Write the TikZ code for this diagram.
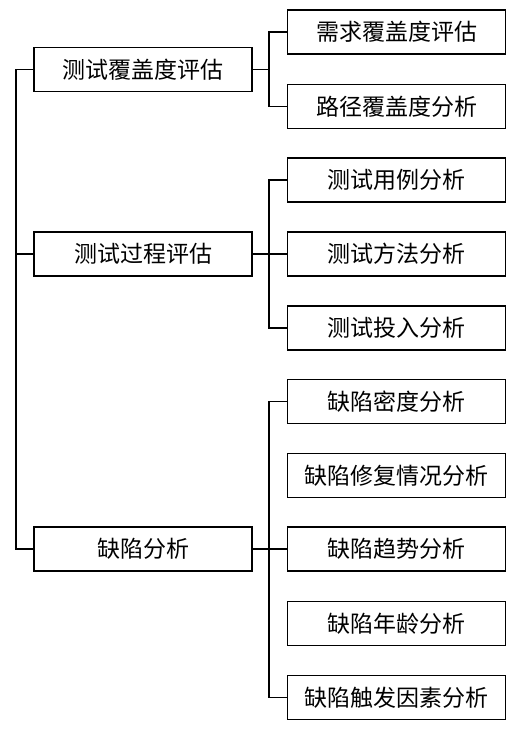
\documentclass[tikz,border=0pt]{standalone}
\usepackage{fontspec}
\newfontfamily\cjk{Noto Sans CJK SC}
\usepackage{tikz}
\usetikzlibrary{positioning,calc}

\tikzset{
    item/.style={draw, line width=1.6pt, minimum width=218pt, minimum height=44pt,
        inner sep=0pt, font=\cjk\fontsize{23}{26}\selectfont},
    link/.style={line width=1.6pt}
}

\begin{document}
\begin{tikzpicture}[x=1pt, y=-1pt]
    \useasboundingbox (0,0) rectangle (531,731);

    % main branches
    \node[item] (cover) at (143, 69.5) {测试覆盖度评估};
    \node[item] (process) at (143, 254) {测试过程评估};
    \node[item] (defect) at (143, 549) {缺陷分析};

    % sub branches
    \node[item] (req) at (396.5, 32) {需求覆盖度评估};
    \node[item] (path) at (396.5, 106.5) {路径覆盖度分析};
    \node[item] (case) at (396.5, 180) {测试用例分析};
    \node[item] (method) at (396.5, 254) {测试方法分析};
    \node[item] (invest) at (396.5, 328) {测试投入分析};
    \node[item] (density) at (396.5, 401.5) {缺陷密度分析};
    \node[item] (repair) at (396.5, 475.5) {缺陷修复情况分析};
    \node[item] (trend) at (396.5, 549) {缺陷趋势分析};
    \node[item] (age) at (396.5, 623.5) {缺陷年龄分析};
    \node[item] (trigger) at (396.5, 697.5) {缺陷触发因素分析};

    % left trunk
    \coordinate (trunk) at (16, 0);
    \draw[link] (cover.west) -| (trunk |- defect.west) -- (defect.west);
    \draw[link] (process.west) -- (trunk |- process.west);

    % right trunks
    \coordinate (fork) at (269, 0);
    \draw[link] (cover.east) -- (fork |- cover.east);
    \draw[link] (req.west) -| (fork |- path.west) -- (path.west);
    \draw[link] (process.east) -- (method.west);
    \draw[link] (case.west) -| (fork |- invest.west) -- (invest.west);
    \draw[link] (defect.east) -- (trend.west);
    \draw[link] (density.west) -| (fork |- trigger.west) -- (trigger.west);
\end{tikzpicture}
\end{document}
